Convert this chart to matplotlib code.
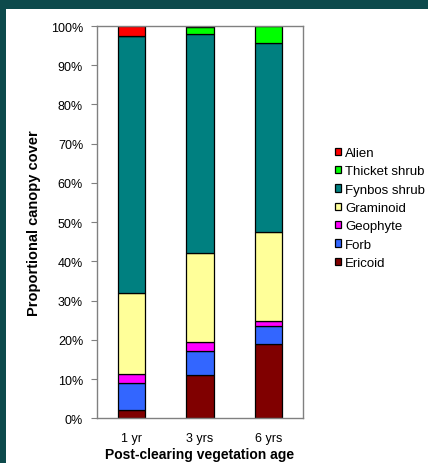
import matplotlib
matplotlib.use("Agg")
import matplotlib.pyplot as plt
from matplotlib.ticker import FuncFormatter, MultipleLocator
import numpy as np

plt.rcParams['font.family'] = ['Liberation Sans', 'DejaVu Sans']

ages = ["1 yr", "3 yrs", "6 yrs"]
series = ["Ericoid", "Forb", "Geophyte", "Graminoid", "Fynbos shrub", "Thicket shrub", "Alien"]
ericoid = [2.0, 11.0, 18.9]
forb = [7.0, 6.2, 4.7]
geophyte = [2.3, 2.3, 1.2]
graminoid = [20.6, 22.6, 22.7]
fynbos = [65.5, 55.9, 48.2]
thicket = [0.0, 1.7, 4.3]
alien = [2.6, 0.3, 0.0]
colors = ["#800000", "#3366FF", "#FF00FF", "#FFFF99", "#008080", "#00FF00", "#FF0000"]

data = [ericoid, forb, geophyte, graminoid, fynbos, thicket, alien]

fig = plt.figure(figsize=(4.28, 4.64), dpi=100)
fig.patch.set_facecolor("#0d4a4c")
bg = fig.add_axes([6/428, 0, 1-6/428, (464-10)/464], zorder=-1)
bg.set_facecolor("white")
bg.set_xticks([]); bg.set_yticks([])
for s in bg.spines.values():
    s.set_visible(False)

ax = fig.add_axes([97/428, 1-419.3/464, 206/428, (419.3-27)/464], zorder=1)
ax.set_facecolor("white")

x = np.arange(len(ages))
bottom = np.zeros(len(ages))
handles = []
for name, vals, c in zip(series, data, colors):
    v = np.array(vals)
    b = ax.bar(x, v, width=0.4, bottom=bottom, color=c, edgecolor="black",
               linewidth=0.9, label=name)
    handles.append(b)
    bottom += v

ax.set_xlim(-0.5, 2.5)
ax.set_ylim(0, 100)
ax.yaxis.set_major_locator(MultipleLocator(10))
ax.yaxis.set_major_formatter(FuncFormatter(lambda v, p: f"{int(round(v))}%"))
ax.set_xticks(x)
ax.set_xticklabels(ages)
ax.tick_params(axis="y", direction="out", length=4, color="#808080", labelsize=9, pad=6)
ax.tick_params(axis="x", length=0, labelsize=9, pad=10)
for s in ax.spines.values():
    s.set_color("#808080")
    s.set_linewidth(1.0)

ax.set_xlabel("Post-clearing vegetation age", fontsize=10, fontweight="bold")
ax.xaxis.set_label_coords(0.5, -(455 - 419.3) / (419.3 - 27))
ax.xaxis.label.set_va("center")
ax.set_ylabel("Proportional canopy cover", fontsize=10.5, fontweight="bold", labelpad=7)

leg = fig.legend(handles[::-1], series[::-1], loc="center left",
                 bbox_to_anchor=(328/428, 1-209/464), frameon=False, fontsize=9.5,
                 handlelength=0.5, handleheight=0.5, handletextpad=0.3,
                 labelspacing=0.48, borderpad=0)

fig.savefig("out.png", dpi=100, facecolor=fig.get_facecolor())
